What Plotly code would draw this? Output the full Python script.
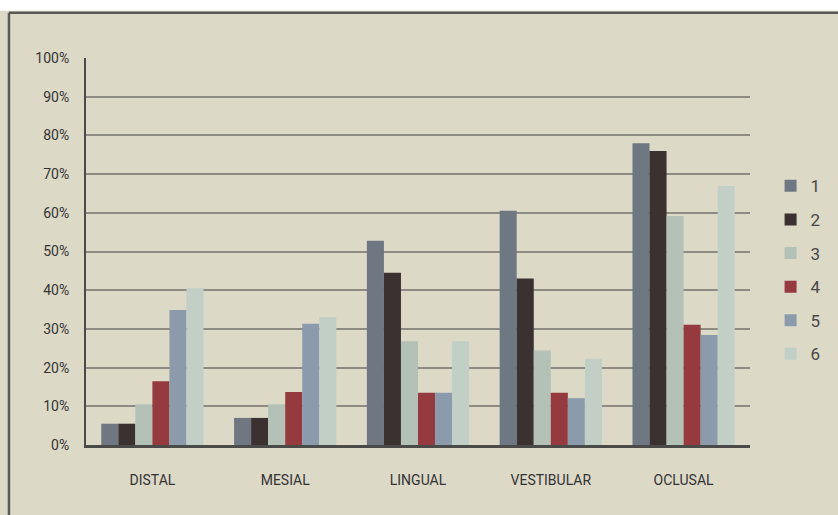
import plotly.graph_objects as go

# Surfaces examined and percentage of lesions per group
categories = ["DISTAL", "MESIAL", "LINGUAL", "VESTIBULAR", "OCLUSAL"]
series_names = ["1", "2", "3", "4", "5", "6"]
g1 = [5.5, 7.0, 52.8, 60.5, 78.0]
g2 = [5.5, 7.0, 44.5, 43.0, 76.0]
g3 = [10.5, 10.5, 26.8, 24.4, 59.2]
g4 = [16.5, 13.7, 13.5, 13.5, 31.1]
g5 = [34.9, 31.3, 13.5, 12.1, 28.4]
g6 = [40.5, 33.0, 26.8, 22.3, 66.9]
series_values = [g1, g2, g3, g4, g5, g6]
colors = ["#6f7782", "#3b3131", "#b3c1b7", "#953a3f", "#8c9bab", "#c1cfc6"]

y_ticks = [0, 10, 20, 30, 40, 50, 60, 70, 80, 90, 100]
y_tick_text = [f"{v}%" for v in y_ticks]

font_family = "Roboto, sans-serif"
paper = "#dcd9c7"

fig = go.Figure()
for name, vals, col in zip(series_names, series_values, colors):
    fig.add_trace(go.Bar(
        x=categories, y=vals, name=name, legendgroup=name,
        marker=dict(color=col, line=dict(width=0)),
    ))

fig.update_layout(
    width=838, height=515,
    margin=dict(l=86, r=86, t=58, b=70),
    paper_bgcolor=paper, plot_bgcolor=paper,
    barmode="group", bargap=0.23, bargroupgap=0,
    font=dict(family=font_family, size=14, color="#333333"),
    showlegend=True,
    legend=dict(
        x=1.031, y=0.715, xanchor="left", yanchor="top",
        bgcolor="rgba(0,0,0,0)", tracegroupgap=8.5,
        font=dict(size=17, color="#474747", family=font_family),
        itemwidth=30,
    ),
    xaxis=dict(
        showgrid=False, showline=True, linecolor="#4a4a48", linewidth=3,
        ticks="", ticklabelstandoff=20, tickfont=dict(size=14, color="#333"),
        zeroline=False,
    ),
    yaxis=dict(
        range=[0, 100], tickvals=y_ticks, ticktext=y_tick_text,
        showgrid=True, gridcolor="#8e8c82", gridwidth=1.5,
        showline=True, linecolor="#4a4a48", linewidth=2,
        ticks="", ticklabelstandoff=12, tickfont=dict(size=14, color="#333"),
        zeroline=False,
    ),
    shapes=[
        # white margin strip and printed frame
        dict(type="rect", xref="paper", yref="paper", x0=-0.2, x1=1.2, y0=1.122, y1=1.16,
             fillcolor="white", line=dict(width=0), layer="above"),
        dict(type="line", xref="paper", yref="paper", x0=-0.116, x1=1.2, y0=1.117, y1=1.117,
             line=dict(color="#5a5a56", width=2.5)),
        dict(type="line", xref="paper", yref="paper", x0=-0.116, x1=-0.116, y0=-0.2, y1=1.117,
             line=dict(color="#5a5a56", width=2.5)),
    ],
)

fig.write_html("out.html")
